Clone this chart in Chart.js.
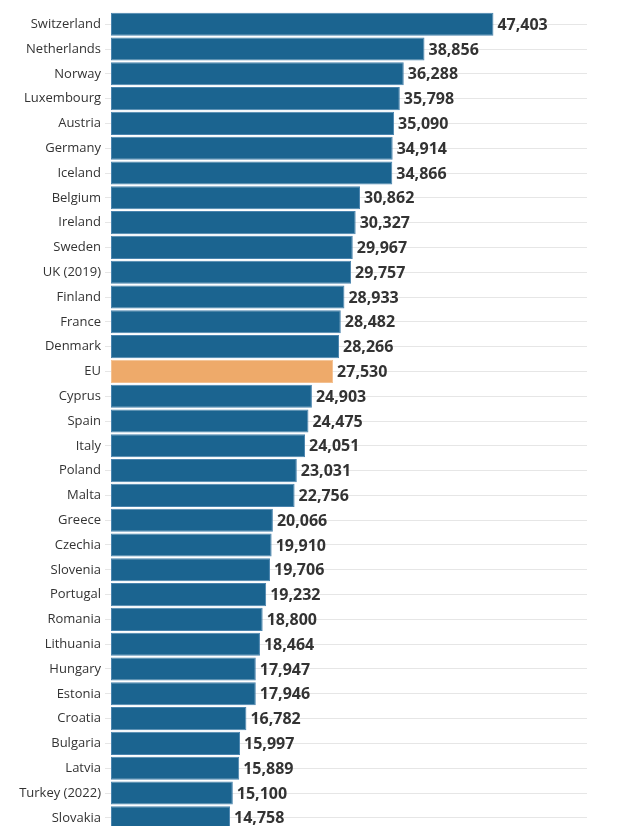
<!DOCTYPE html>
<html>
<head>
<meta charset="utf-8">
<script src="https://cdn.jsdelivr.net/npm/chart.js@4/dist/chart.umd.min.js"></script>
<style>
html,body{margin:0;padding:0;background:#fff;overflow:hidden;}
#wrap{position:relative;width:633px;height:842px;}
</style>
</head>
<body>
<div id="wrap"><canvas id="c"></canvas></div>
<script>
const categories = ["Switzerland","Netherlands","Norway","Luxembourg","Austria","Germany","Iceland","Belgium","Ireland","Sweden","UK (2019)","Finland","France","Denmark","EU","Cyprus","Spain","Italy","Poland","Malta","Greece","Czechia","Slovenia","Portugal","Romania","Lithuania","Hungary","Estonia","Croatia","Bulgaria","Latvia","Turkey (2022)","Slovakia"];
const values = [47403,38856,36288,35798,35090,34914,34866,30862,30327,29967,29757,28933,28482,28266,27530,24903,24475,24051,23031,22756,20066,19910,19706,19232,18800,18464,17947,17946,16782,15997,15889,15100,14758];
const highlight = "EU";
const axisMax = 59000;

const BLUE = "#1b6490", BLUE_EDGE = "#4a84ae", ORANGE = "#eeaa6a", ORANGE_EDGE = "#f3c090";

const labelPlugin = {
  id: "valueLabels",
  afterDatasetsDraw(chart) {
    const ctx = chart.ctx;
    const meta = chart.getDatasetMeta(0);
    ctx.save();
    ctx.font = "bold 16px 'Open Sans'";
    ctx.fillStyle = "#333333";
    ctx.textAlign = "left";
    ctx.textBaseline = "middle";
    meta.data.forEach((bar, i) => {
      ctx.fillText(values[i].toLocaleString("en-US"), bar.x + 4, bar.y + 1);
    });
    ctx.restore();
  }
};

new Chart(document.getElementById("c"), {
  type: "bar",
  data: {
    labels: categories,
    datasets: [{
      data: values,
      backgroundColor: categories.map(c => c === highlight ? ORANGE : BLUE),
      borderColor: categories.map(c => c === highlight ? ORANGE_EDGE : BLUE_EDGE),
      borderWidth: 1,
      borderSkipped: false,
      barPercentage: 0.93,
      categoryPercentage: 1
    }]
  },
  options: {
    indexAxis: "y",
    responsive: true,
    maintainAspectRatio: false,
    animation: false,
    layout: { padding: { top: 11, right: 46, bottom: 0, left: 0 } },
    plugins: { legend: { display: false }, tooltip: { enabled: false } },
    scales: {
      x: { display: false, min: 0, max: axisMax },
      y: {
        afterFit(scale) { scale.width = 111; },
        border: { display: false },
        grid: { offset: false, color: "#e6e6e6", lineWidth: 1, drawTicks: true, tickLength: 6 },
        ticks: { color: "#333333", font: { family: "'Open Sans'", size: 13 }, padding: 4, autoSkip: false }
      }
    }
  },
  plugins: [labelPlugin]
});
</script>
</body>
</html>
